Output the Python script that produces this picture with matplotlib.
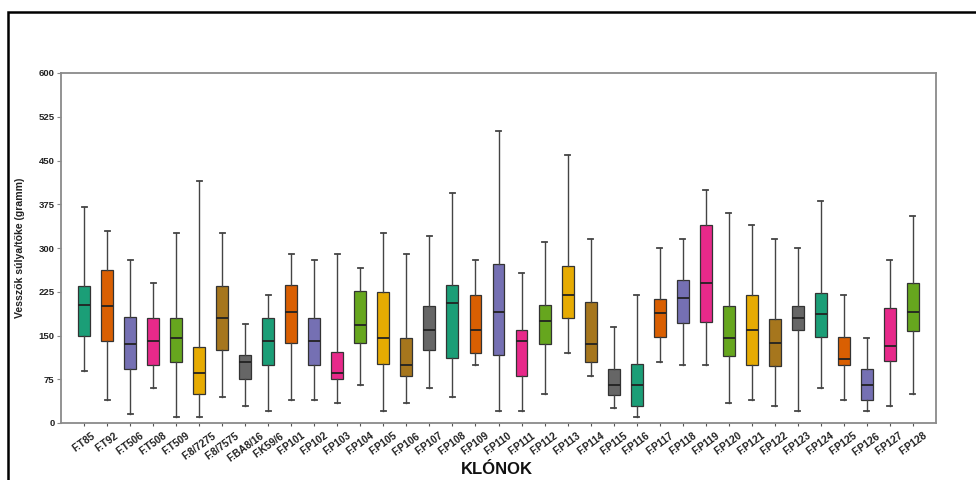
import matplotlib.pyplot as plt
import matplotlib.patches as mpatches
import numpy as np

plt.rcParams['font.family'] = ['Liberation Sans', 'DejaVu Sans']

klonok = ['F.T85', 'F.T92', 'F.T506', 'F.T508', 'F.T509', 'F.8/7275', 'F.8/7575',
          'F.BA8/16', 'F.K59/6', 'F.P101', 'F.P102', 'F.P103', 'F.P104', 'F.P105',
          'F.P106', 'F.P107', 'F.P108', 'F.P109', 'F.P110', 'F.P111', 'F.P112',
          'F.P113', 'F.P114', 'F.P115', 'F.P116', 'F.P117', 'F.P118', 'F.P119',
          'F.P120', 'F.P121', 'F.P122', 'F.P123', 'F.P124', 'F.P125', 'F.P126',
          'F.P127', 'F.P128']

# min, Q1, median, Q3, max (gramm)
w_min = [90, 40, 15, 60, 10, 10, 45, 30, 20, 40, 40, 35, 65, 20, 35, 60, 45, 100, 20,
         20, 50, 120, 80, 25, 10, 105, 100, 100, 35, 40, 30, 20, 60, 40, 20, 30, 50]
q1 = [150, 140, 92, 100, 105, 50, 125, 75, 100, 137, 100, 75, 138, 102, 80, 125, 112,
      120, 117, 80, 135, 180, 105, 48, 30, 148, 172, 174, 115, 100, 97, 160, 147, 100,
      40, 107, 157]
med = [202, 200, 135, 140, 145, 85, 180, 105, 140, 190, 140, 85, 168, 145, 100, 160,
       205, 160, 190, 140, 175, 220, 135, 65, 65, 188, 215, 240, 145, 160, 137, 180,
       187, 110, 65, 132, 190]
q3 = [235, 262, 182, 180, 180, 130, 235, 117, 180, 237, 180, 122, 227, 225, 145, 200,
      237, 220, 272, 160, 203, 270, 207, 93, 102, 213, 245, 340, 200, 220, 178, 200,
      223, 148, 92, 197, 240]
w_max = [370, 330, 280, 240, 325, 415, 325, 170, 220, 290, 280, 290, 265, 325, 290,
         320, 395, 280, 500, 258, 310, 460, 315, 165, 220, 300, 315, 400, 360, 340, 315,
         300, 380, 220, 145, 280, 355]

dark2 = ['#1b9e77', '#d95f02', '#7570b3', '#e7298a', '#66a61e', '#e6ab02', '#a6761d', '#666666']

stats = []
for i, k in enumerate(klonok):
    stats.append({'label': k, 'whislo': w_min[i], 'q1': q1[i], 'med': med[i],
                  'q3': q3[i], 'whishi': w_max[i], 'fliers': []})

fig = plt.figure(figsize=(9.76, 4.8), dpi=100)
ax = fig.add_axes([61 / 976, 1 - 423 / 480, 875 / 976, 350 / 480])

pos = np.arange(len(klonok))
bp = ax.bxp(stats, positions=pos, widths=0.52, patch_artist=True, showfliers=False,
            capwidths=0.22,
            boxprops=dict(edgecolor='#333333', linewidth=0.9),
            medianprops=dict(color='#222222', linewidth=1.3),
            whiskerprops=dict(color='#444444', linewidth=1.0),
            capprops=dict(color='#444444', linewidth=1.3))
for i, b in enumerate(bp['boxes']):
    b.set_facecolor(dark2[i % 8])

ax.set_xlim(-1.01, len(klonok) + 0.01)
ax.set_ylim(0, 600)
ax.set_yticks(np.arange(0, 601, 75))
ax.set_xticks(pos)
ax.set_xticklabels(klonok, rotation=36, ha='center', va='top',
                   fontsize=7.3, fontweight='bold', color='#222222')
for t in ax.get_yticklabels():
    t.set_fontsize(6.8)
    t.set_fontweight('bold')
    t.set_color('#222222')
for s in ax.spines.values():
    s.set_color('#8a8a8a')
    s.set_linewidth(1.3)
ax.tick_params(axis='both', color='#8a8a8a', length=3, width=0.8, pad=1.5)
ax.tick_params(axis='x', color='#555555', length=2.5, pad=3)

ax.set_ylabel('Vesszők súlya/tőke (gramm)', fontsize=7.6, fontweight='bold',
              color='#222222')
ax.yaxis.set_label_coords(-36 / 875, 0.5)
ax.set_xlabel('KLÓNOK', fontsize=12, fontweight='bold', color='#111111')
ax.xaxis.set_label_coords(0.498, -0.11)

# frame around the figure
fig.patches.append(mpatches.Rectangle((8 / 976, -0.05), 1.1, 1 - 12 / 480 + 0.05,
                                      transform=fig.transFigure, fill=False,
                                      edgecolor='black', linewidth=1.8))

plt.savefig('out.png', dpi=100)
